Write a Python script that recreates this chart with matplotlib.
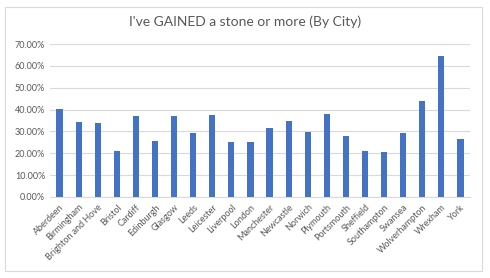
import matplotlib.pyplot as plt
from matplotlib.patches import Rectangle
from matplotlib.ticker import FuncFormatter

cities = ["Aberdeen", "Birmingham", "Brighton and Hove", "Bristol", "Cardiff",
          "Edinburgh", "Glasgow", "Leeds", "Leicester", "Liverpool", "London",
          "Manchester", "Newcastle", "Norwich", "Plymouth", "Portsmouth",
          "Sheffield", "Southampton", "Swansea", "Wolverhampton", "Wrexham", "York"]
gained = [0.404, 0.344, 0.339, 0.211, 0.372, 0.257, 0.372, 0.294, 0.376, 0.252,
          0.252, 0.317, 0.349, 0.298, 0.381, 0.280, 0.211, 0.206, 0.294, 0.440,
          0.647, 0.266]
yticks = [0.0, 0.1, 0.2, 0.3, 0.4, 0.5, 0.6, 0.7]

plt.rcParams['font.family'] = ['Lato', 'DejaVu Sans']
txt = '#595959'
grid = '#d9d9d9'

fig = plt.figure(figsize=(4.9, 2.78), dpi=100)
ax = fig.add_axes([50 / 490, 1 - 197 / 278, 420 / 490, 153 / 278])

x = range(len(cities))
ax.bar(x, gained, width=0.32, color='#4472C4', zorder=3)

ax.set_xlim(-0.5, len(cities) - 0.5)
ax.set_ylim(0, 0.7)
ax.set_yticks(yticks)
ax.yaxis.set_major_formatter(FuncFormatter(lambda v, p: f"{v * 100:.2f}%"))
ax.set_xticks(list(x))
ax.set_xticklabels(cities, rotation=45, ha='right', rotation_mode='anchor')
ax.tick_params(axis='both', length=0, labelsize=6.5, colors=txt)
ax.tick_params(axis='x', pad=4)
ax.grid(axis='y', color=grid, linewidth=0.8, zorder=0)
for s in ['top', 'right', 'left']:
    ax.spines[s].set_visible(False)
ax.spines['bottom'].set_color(grid)
ax.spines['bottom'].set_linewidth(0.8)

fig.text(0.5, 1 - 22 / 278, "I've GAINED a stone or more (By City)",
         ha='center', va='center', fontsize=10, color=txt)

fig.patches.append(Rectangle((5 / 490, 7 / 278), 477 / 490, 264 / 278,
                             transform=fig.transFigure, fill=False,
                             edgecolor=grid, linewidth=0.8))

fig.savefig('out.png', dpi=100)
